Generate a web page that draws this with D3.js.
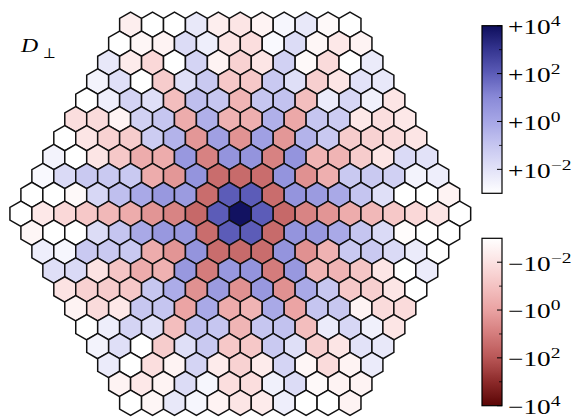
<!DOCTYPE html>
<html><head><meta charset="utf-8">
<script src="https://cdn.jsdelivr.net/npm/d3@7"></script>
<style>body{margin:0;background:#fff} svg{display:block}</style>
</head><body>
<svg id="c" width="579" height="419"></svg>
<script>
// D_perp values per hexagon row (top to bottom, left to right)
const row0  = [-4.0e-3, 0, 0, 6.3e-3, -4.0e-3, -7.9e-3, -2.5e-3, 2.0e-3, 6.3e-3, -1.6e-3, 0];
const row1  = [0, -2.0e-3, -2.5e-3, 1.6e-2, 4.0e-3, -7.9e-3, -1.3e-2, 1.6e-3, 1.6e-2, -2.0e-3, -6.3e-3, -2.5e-3];
const row2  = [6.3e-3, -5.0e-3, -2.0e-2, 0, 3.2e-2, -2.5e-3, -3.2e-2, -7.9e-3, 4.0e-2, -1.6e-3, -1.6e-2, 0, 5.0e-3];
const row3  = [2.5e-3, 1.3e-2, 0, -5.0e-2, 1.3e-2, 7.9e-2, -6.3e-2, -6.3e-2, 7.9e-2, 1.3e-2, -4.0e-2, -7.9e-3, 1.0e-2, 6.3e-3];
const row4  = [0, 4.0e-3, 3.2e-2, 1.3e-2, -0.13, 0.16, 0.10, -0.25, 0.10, 0.13, -0.13, 5.0e-3, 2.5e-2, 3.2e-3, -7.9e-3];
const row5  = [-1.3e-2, -1.6e-2, -2.5e-3, 4.0e-2, 0.10, -0.50, 0.50, -0.32, -0.40, 0.50, -0.63, 0.10, 6.3e-2, -6.3e-3, -1.3e-2, -6.3e-3];
const row6  = [0, -7.9e-3, -3.2e-2, -5.0e-2, 6.3e-2, 0.40, -2.0, 1.6, -2.5, 1.6, -2.0, 0.40, 7.9e-2, -5.0e-2, -3.2e-2, -1.6e-2, -7.9e-3];
const row7  = [2.5e-3, 0, -7.9e-3, -6.3e-2, -0.50, -0.50, 3.2, -7.1, 4.5, 4.5, -7.1, 4.5, -0.28, -0.28, -5.0e-2, -7.9e-3, 2.0e-2, 1.0e-2];
const row8  = [1.6e-3, 2.0e-2, 7.9e-2, 7.9e-2, 7.9e-2, -0.50, -2.0, 4.5, -25, -28, -25, 4.5, -2.8, -0.40, 7.9e-2, 7.9e-2, 4.5e-2, 2.5e-3, 4.0e-3];
const row9  = [0, 0, -1.6e-3, 2.5e-2, 0.16, 0.79, 3.2, 2.5, -25, 100, 100, -25, 4.5, 2.5, 0.79, 0.11, 1.3e-2, 0, 0, -2.5e-3];
const row10 = [0, -6.3e-3, -2.0e-2, -6.3e-2, -0.20, -0.50, -2.2, -6.3, -32, 100, 8.0e3, 100, -32, -6.3, -2.2, -0.50, -0.20, -6.3e-2, -2.0e-2, -7.9e-3, 0];
const row11 = [-2.0e-3, 0, 0, 1.6e-2, 0.11, 0.79, 3.2, 3.2, -25, 100, 100, -28, 4.5, 3.2, 0.79, 0.11, 2.0e-2, -1.3e-3, 0, 0];
const row12 = [4.0e-3, 2.0e-3, 7.9e-2, 7.9e-2, 7.9e-2, -0.50, -2.2, 4.5, -25, -28, -25, 4.5, -2.8, -0.32, 7.9e-2, 7.9e-2, 2.0e-2, 5.0e-3, 1.0e-3];
const row13 = [1.3e-2, 2.0e-2, -8.9e-3, -7.9e-2, -0.50, -0.35, 3.2, -10, 3.2, 4.5, -10, 3.2, -0.28, -0.28, -7.9e-2, -7.9e-3, 0, 5.0e-3];
const row14 = [-8.9e-3, -3.5e-2, -5.0e-2, -6.3e-2, 8.9e-2, 0.63, -2.8, 2.5, -2.8, 3.2, -2.8, 0.79, 8.9e-2, -6.3e-2, -4.0e-2, -7.9e-3, 0];
const row15 = [-2.5e-3, -1.6e-2, -6.3e-3, 8.9e-2, 0.11, -0.89, 0.79, -0.50, -0.28, 0.79, -0.89, 0.11, 8.9e-2, -2.5e-3, -1.6e-2, -1.6e-2];
const row16 = [0, 4.0e-3, 3.2e-2, 1.3e-2, -0.13, 0.16, 0.10, -0.25, 0.10, 0.13, -0.13, 5.0e-3, 2.5e-2, 3.2e-3, -7.9e-3];
const row17 = [2.5e-3, 1.3e-2, 0, -5.0e-2, 1.3e-2, 7.9e-2, -6.3e-2, -6.3e-2, 7.9e-2, 1.3e-2, -4.0e-2, -7.9e-3, 1.0e-2, 6.3e-3];
const row18 = [5.0e-3, 0, -1.3e-2, -2.5e-3, 3.2e-2, -5.0e-3, -3.2e-2, -5.0e-3, 3.2e-2, -2.0e-3, -1.6e-2, -2.5e-3, 5.0e-3];
const row19 = [-2.5e-3, -6.3e-3, -2.5e-3, 1.6e-2, 2.0e-3, -1.3e-2, -1.3e-2, 3.2e-3, 1.6e-2, -1.6e-3, -2.5e-3, -2.5e-3];
const row20 = [0, -2.0e-3, 6.3e-3, 2.0e-3, -2.5e-3, -7.9e-3, -5.0e-3, 4.0e-3, 0, 0, -2.5e-3];

const posTickExps = [-2, 0, 2, 4];
const negTickExps = [-2, 0, 2, 4];
const minorExps = [-1, 1, 3];
const expDomain = [-3, 4];
const label = "D";
const labelSub = "\u22A5";

const rows = [row0,row1,row2,row3,row4,row5,row6,row7,row8,row9,row10,
              row11,row12,row13,row14,row15,row16,row17,row18,row19,row20];

const svg = d3.select("#c");
const SERIF = "Liberation Serif, Times New Roman, serif";
const SX = 1.3;

const stopsExp = [-3,-2,-1,0,1,2,3,4];
const blue = d3.scaleLinear().domain(stopsExp)
  .range(["#ffffff","#e2e2f8","#c6c6f0","#a6a6e6","#8a8ad8","#5c5cb8","#353590","#0e0e5c"])
  .interpolate(d3.interpolateRgb).clamp(true);
const red = d3.scaleLinear().domain(stopsExp)
  .range(["#ffffff","#fce2e2","#f4c2c2","#eaa2a2","#d47c7c","#b85656","#8c2a2a","#5a0505"])
  .interpolate(d3.interpolateRgb).clamp(true);
function color(v){
  if (!v) return "#ffffff";
  const m = Math.log10(Math.abs(v));
  return v > 0 ? blue(m) : red(m);
}

const W = 21.94;
const R = W / Math.sqrt(3);
const x = d3.scaleLinear().domain([-10, 10]).range([240.3 - 10*W, 240.3 + 10*W]);
const y = d3.scaleLinear().domain([0, 20]).range([24.8, 402.8]);

const cells = [];
rows.forEach((vals, r) => {
  const n = vals.length;
  vals.forEach((v, i) => cells.push({u: i - (n-1)/2, r, v}));
});

const hexPts = d3.range(6).map(k => {
  const a = Math.PI/180 * (60*k - 90);
  return [R*Math.cos(a), R*Math.sin(a)];
});
const hexPath = d3.line()(hexPts) + "Z";

svg.append("g").selectAll("path").data(cells).join("path")
  .attr("d", hexPath)
  .attr("transform", d => `translate(${x(d.u)},${y(d.r)})`)
  .attr("fill", d => color(d.v))
  .attr("stroke", "#111")
  .attr("stroke-width", 1.5)
  .attr("stroke-linejoin", "miter");

svg.append("text").attr("transform", "translate(21,51.5) scale(1.25,1)")
  .attr("font-family", SERIF).attr("font-style", "italic")
  .attr("font-size", 19).attr("fill", "#000").text(label);
svg.append("text").attr("x", 42.5).attr("y", 58)
  .attr("font-family", "DejaVu Serif, DejaVu Sans, serif")
  .attr("font-size", 14).attr("fill", "#000").text(labelSub);

const defs = svg.append("defs");
function colorbar(id, scale, y0, y1, sign, ticks){
  const barX = 482, barW = 20;
  const ys = d3.scaleLinear().domain(expDomain).range(sign > 0 ? [y1, y0] : [y0, y1]);
  const g = defs.append("linearGradient").attr("id", id)
    .attr("x1", 0).attr("x2", 0).attr("y1", 0).attr("y2", 1);
  d3.range(0, 1.0001, 0.02).forEach(f => {
    const e = sign > 0 ? expDomain[1] - f*(expDomain[1]-expDomain[0]) : expDomain[0] + f*(expDomain[1]-expDomain[0]);
    g.append("stop").attr("offset", f).attr("stop-color", scale(e));
  });
  svg.append("rect").attr("x", barX).attr("y", y0).attr("width", barW).attr("height", y1 - y0)
    .attr("fill", `url(#${id})`).attr("stroke", "#000").attr("stroke-width", 1.2);
  const tg = svg.append("g");
  tg.selectAll("line.maj").data(ticks).join("line")
    .attr("x1", barX + barW - 5).attr("x2", barX + barW)
    .attr("y1", d => ys(d)).attr("y2", d => ys(d)).attr("stroke", "#000").attr("stroke-width", 1);
  tg.selectAll("line.min").data(minorExps).join("line")
    .attr("x1", barX + barW - 3).attr("x2", barX + barW)
    .attr("y1", d => ys(d)).attr("y2", d => ys(d)).attr("stroke", "#000").attr("stroke-width", 0.8);
  const t = tg.selectAll("text").data(ticks).join("text")
    .attr("transform", d => `translate(508,${ys(d) + 8.4}) scale(${SX},1)`)
    .attr("font-family", SERIF)
    .attr("font-size", 21).attr("fill", "#000");
  t.append("tspan").text(sign > 0 ? "+10" : "\u221210");
  t.append("tspan").attr("dy", -8).attr("font-size", 15)
    .text(d => (d < 0 ? "\u2212" + Math.abs(d) : d));
}
colorbar("gb", blue, 25.7, 193.3, 1, posTickExps);
colorbar("gr", red, 238.3, 405.7, -1, negTickExps);
</script>
</body></html>
